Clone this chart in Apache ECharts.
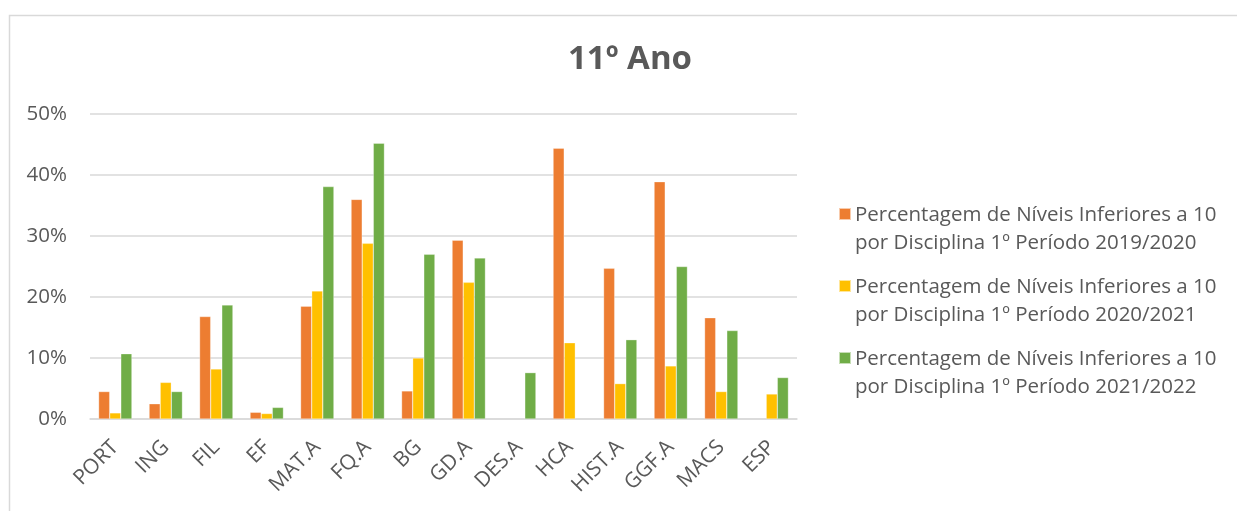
<!DOCTYPE html>
<html>
<head>
<meta charset="utf-8">
<script src="https://cdn.jsdelivr.net/npm/echarts@6/dist/echarts.min.js"></script>
<style>
  html, body { margin: 0; padding: 0; background: #fff; }
  #chart { width: 1237px; height: 511px; }
</style>
</head>
<body>
<div id="chart"></div>
<script>
// Subjects (11º ano)
const categories = ['PORT', 'ING', 'FIL', 'EF', 'MAT.A', 'FQ.A', 'BG', 'GD.A', 'DES.A', 'HCA', 'HIST.A', 'GGF.A', 'MACS', 'ESP'];

// Share of grades below 10 per subject, 1st term (fraction)
const period2019_2020 = [0.045, 0.025, 0.168, 0.011, 0.185, 0.360, 0.046, 0.293, null, 0.444, 0.247, 0.389, 0.166, null];
const period2020_2021 = [0.010, 0.060, 0.082, 0.009, 0.210, 0.288, 0.100, 0.224, null, 0.125, 0.058, 0.087, 0.045, 0.041];
const period2021_2022 = [0.107, 0.045, 0.187, 0.019, 0.381, 0.452, 0.270, 0.264, 0.076, null, 0.130, 0.250, 0.145, 0.068];

const seriesNames = [
  'Percentagem de Níveis Inferiores a 10\npor Disciplina 1º Período 2019/2020',
  'Percentagem de Níveis Inferiores a 10\npor Disciplina 1º Período 2020/2021',
  'Percentagem de Níveis Inferiores a 10\npor Disciplina 1º Período 2021/2022'
];
const colors = ['#ED7D31', '#FFC000', '#70AD47'];
const yTicks = [0, 0.1, 0.2, 0.3, 0.4, 0.5];

const FONT = '"Open Sans", "Liberation Sans", sans-serif';
const TEXT = '#595959';

// Legend swatch: a square at the top of a tall box (plus an invisible speck at the
// bottom) so it lines up with the first line of each two-line legend entry.
const SWATCH = 'path://M0,0h12v12h-12z M0,42h0.01v0.01h-0.01z';

const chart = echarts.init(document.getElementById('chart'), null, { renderer: 'canvas' });

const data = [period2019_2020, period2020_2021, period2021_2022];

chart.setOption({
  animation: false,
  backgroundColor: '#ffffff',
  color: colors,
  title: {
    text: '11º Ano',
    left: 625,
    top: 38,
    textAlign: 'center',
    textStyle: { fontFamily: FONT, fontSize: 33, fontWeight: 'bold', color: TEXT }
  },
  graphic: [{
    type: 'rect',
    shape: { x: 9.5, y: 15.5, width: 1400, height: 700 },
    style: { fill: 'none', stroke: '#D9D9D9', lineWidth: 1.5 },
    silent: true
  }],
  legend: {
    orient: 'vertical',
    left: 833,
    top: 196,
    itemWidth: 12,
    itemHeight: 42,
    itemGap: 16,
    icon: SWATCH,
    textStyle: { fontFamily: FONT, fontSize: 20.5, color: TEXT, lineHeight: 28, padding: [0, 0, 0, -1] },
    data: seriesNames
  },
  grid: { left: 90, right: 440, top: 114, bottom: 92, containLabel: false },
  xAxis: {
    type: 'category',
    data: categories,
    axisLine: { lineStyle: { color: '#D9D9D9', width: 1.5 } },
    axisTick: { show: false },
    axisLabel: {
      rotate: 45,
      interval: 0,
      margin: 25,
      fontFamily: FONT,
      fontSize: 21,
      color: TEXT
    }
  },
  yAxis: {
    type: 'value',
    min: 0,
    max: 0.5,
    interval: 0.1,
    axisLine: { show: false },
    axisTick: { show: false },
    splitLine: { lineStyle: { color: '#D9D9D9', width: 1.5 } },
    axisLabel: {
      margin: 23,
      fontFamily: FONT,
      fontSize: 20.5,
      color: TEXT,
      formatter: v => {
        const t = yTicks.find(k => Math.abs(k - v) < 1e-9);
        return Math.round((t !== undefined ? t : v) * 100) + '%';
      }
    }
  },
  series: data.map((d, i) => ({
    name: seriesNames[i],
    type: 'bar',
    data: d,
    barGap: '0%',
    barCategoryGap: '34%',
    itemStyle: { color: colors[i], borderColor: 'rgba(255,255,255,0.6)', borderWidth: 0.5 }
  }))
});
</script>
</body>
</html>
